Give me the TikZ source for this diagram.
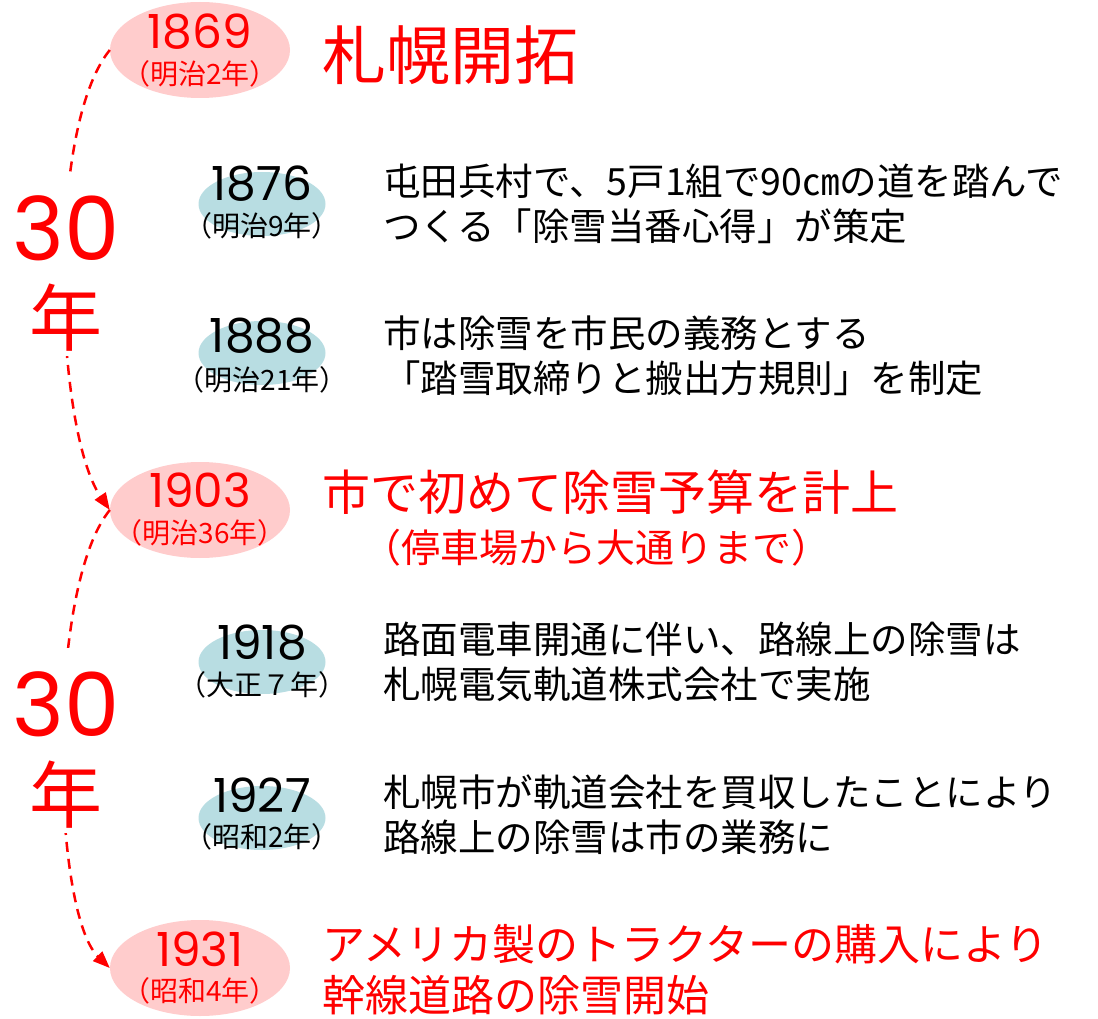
\documentclass[tikz,border=0pt]{standalone}
\usepackage{fontspec}
\setmainfont{Noto Sans CJK JP}
\newfontfamily\numfont{Poppins}
\usetikzlibrary{shapes.geometric, arrows.meta}
\definecolor{pinkfill}{RGB}{255,204,204}
\definecolor{bluefill}{RGB}{184,221,226}
\tikzset{
  milestone/.style={ellipse, fill=pinkfill, minimum width=180pt, minimum height=96pt, inner sep=0pt},
  event/.style={ellipse, fill=bluefill, minimum width=127pt, minimum height=64pt, inner sep=0pt},
  yearnum/.style={inner sep=0pt, font=\numfont\fontsize{47}{50}\selectfont},
  eraname/.style={inner sep=0pt, font=\fontsize{28}{32}\selectfont},
  body/.style={anchor=west, align=left, inner sep=0pt, font=\fontsize{37.5}{45}\selectfont},
  span/.style={red, fill=white, inner xsep=2pt},
  gap/.style={red, dash pattern=on 10pt off 7pt, line width=2.5pt, -{Triangle[length=17pt, width=13pt]}}
}
\begin{document}
\begin{tikzpicture}[x=1pt, y=-1pt]
    \useasboundingbox (0,0) rectangle (1098,1019);
    % Pink milestones
    \node[milestone] (m1869) at (200,50) {};
    \node[milestone] (m1903) at (200,510) {};
    \node[milestone] (m1931) at (200,968) {};
    \node[yearnum, red] (n1869) at (200,32) {1869};
    \node[eraname, red] (r1869) at (200,74) {（明治2年）};
    \node[yearnum, red] (n1903) at (200,490) {1903};
    \node[eraname, red] (r1903) at (200,533) {（明治36年）};
    \node[yearnum, red] (n1931) at (200,949) {1931};
    \node[eraname, red] (r1931) at (200,991) {（昭和4年）};
    % Blue events
    \foreach \yr/\ey/\ny/\ry/\era in {1876/204/184/226/明治9年, 1888/353/336/380/明治21年,
                                    1918/662/643/685/大正７年, 1927/818/795/837/昭和2年} {
        \node[event] (e\yr) at (262,\ey) {};
        \node[yearnum] (n\yr) at (262,\ny) {\yr};
        \node[eraname] (r\yr) at (262,\ry) {（\era）};
    }
    % Texts
    \node[body, red, font=\fontsize{64}{70}\selectfont] (t1869) at (322,55) {札幌開拓};
    \node[body] (t1876) at (383,204) {屯田兵村で、5戸1組で90㎝の道を踏んで\\つくる「除雪当番心得」が策定};
    \node[body] (t1888) at (383,356) {市は除雪を市民の義務とする\\「踏雪取締りと搬出方規則」を制定};
    \node[body, red, font=\fontsize{48}{52}\selectfont] (t1903) at (322,492) {市で初めて除雪予算を計上};
    \node[body, red, font=\fontsize{39}{44}\selectfont] (s1903) at (362,548) {（停車場から大通りまで）};
    \node[body] (t1918) at (383,662) {路面電車開通に伴い、路線上の除雪は\\札幌電気軌道株式会社で実施};
    \node[body] (t1927) at (383,815) {札幌市が軌道会社を買収したことにより\\路線上の除雪は市の業務に};
    \node[body, red, font=\fontsize{43}{51}\selectfont] (t1931) at (322,970) {アメリカ製のトラクターの購入により\\幹線道路の除雪開始};
    % 30-year spans
    \draw[gap] (m1869.west) .. controls (45,130) and (55,430) .. (m1903.west);
    \draw[gap] (m1903.west) .. controls (45,590) and (52,912) .. (m1931.west);
    \node[span, inner ysep=23pt, font=\numfont\fontsize{88}{90}\selectfont] (a30) at (66,228) {30};
    \node[span, inner ysep=4pt, font=\fontsize{73}{80}\selectfont] (a30n) at (66,318) {年};
    \node[span, inner ysep=23pt, font=\numfont\fontsize{88}{90}\selectfont] (b30) at (66,704) {30};
    \node[span, inner ysep=4pt, font=\fontsize{73}{80}\selectfont] (b30n) at (66,795) {年};
\end{tikzpicture}
\end{document}
